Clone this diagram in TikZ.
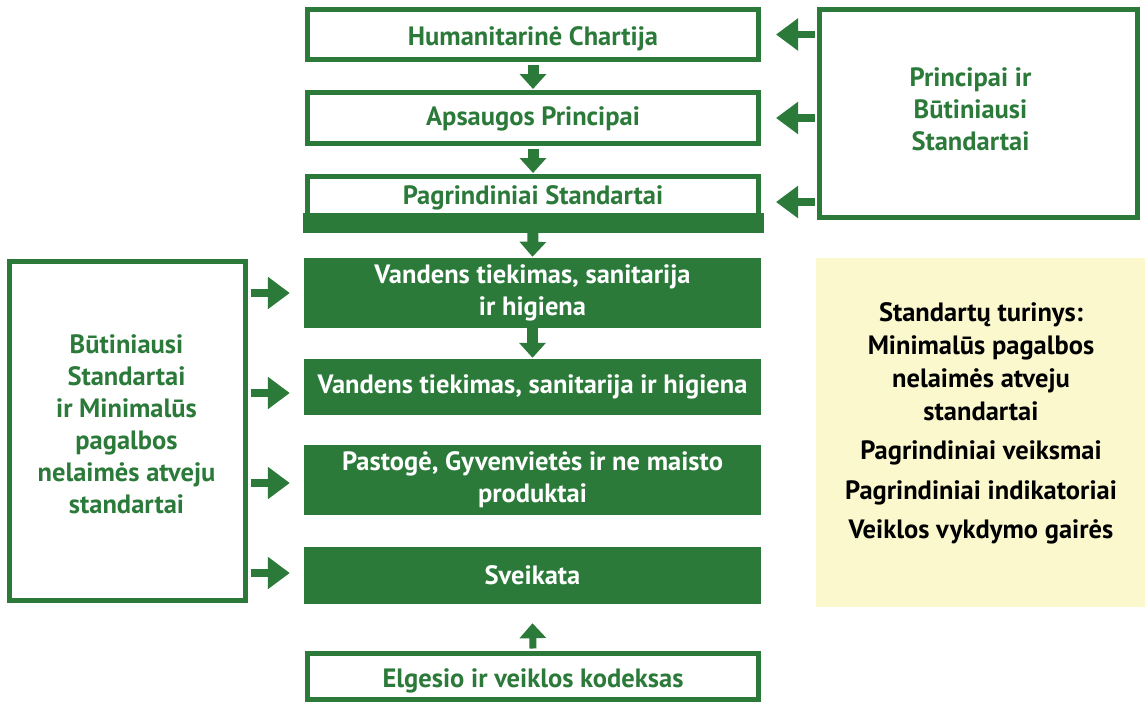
\documentclass[tikz,border=0pt]{standalone}
\usepackage{fontspec}
\setmainfont{PT Sans}
\usetikzlibrary{arrows.meta,calc}
\definecolor{sgreen}{RGB}{43,122,58}
\definecolor{syellow}{RGB}{251,248,206}
\begin{document}
\begin{tikzpicture}[x=1pt,y=-1pt,
  font=\bfseries\fontsize{26.5}{32}\selectfont,
  outbox/.style={draw=sgreen,line width=5pt,fill=white,text=sgreen,inner sep=0pt,align=center},
  greenbox/.style={fill=sgreen,text=white,inner sep=0pt,minimum width=457pt,align=center},
  downarrow/.style={draw=sgreen,line width=11pt,-{Triangle[length=15pt,width=26pt]}},
  sidearrow/.style={draw=sgreen,line width=7.5pt,-{Triangle[length=22pt,width=31pt]}}]
\useasboundingbox (0,0) rectangle (1145,704);

% top column
\node[outbox,minimum width=451pt,minimum height=50pt,
      label={[text=sgreen,yshift=-4pt]center:Humanitarinė Chartija}] (hc) at (533,34.5) {};
\node[outbox,minimum width=451pt,minimum height=51pt,
      label={[text=sgreen,yshift=-1pt]center:Apsaugos Principai}] (ap) at (533,118) {};
\node[outbox,minimum width=451pt,minimum height=51pt,
      label={[text=sgreen,yshift=4.5pt]center:Pagrindiniai Standartai}] (ps) at (533,202) {};
\fill[sgreen] ([xshift=-2.5pt,yshift=-2.5pt]ps.south west) rectangle ([xshift=2.5pt,yshift=17pt]ps.south east);

% right box
\node[outbox,minimum width=318pt,minimum height=208pt,
      label={[text=sgreen,align=center,xshift=-8pt,yshift=4pt]center:Principai ir\\Būtiniausi\\Standartai}] (pb) at (978.5,113.5) {};

% green boxes
\node[greenbox,minimum height=70pt] (g1) at (532.5,293) {Vandens tiekimas, sanitarija\\ir higiena};
\node[greenbox,minimum height=56pt] (g2) at (532.5,387) {Vandens tiekimas, sanitarija ir higiena};
\node[greenbox,minimum height=70pt] (g3) at (532.5,480) {Pastogė, Gyvenvietės ir ne maisto\\produktai};
\node[greenbox,minimum height=57pt] (g4) at (532.5,575.5) {Sveikata};

% bottom box
\node[outbox,minimum width=451pt,minimum height=46pt,
      label={[text=sgreen,yshift=-4pt]center:Elgesio ir veiklos kodeksas}] (ek) at (533,676.5) {};

% left box
\node[outbox,minimum width=236pt,minimum height=339pt,
      label={[text=sgreen,align=center,xshift=-1pt,yshift=7pt]center:Būtiniausi\\Standartai\\ir Minimalūs\\pagalbos\\nelaimės atveju\\standartai}] (lb) at (127.5,431) {};

% yellow box
\node[fill=syellow,minimum width=330pt,minimum height=349pt,inner sep=0pt,
      label={[align=center,text=black,yshift=9pt,font=\bfseries\fontsize{26.5}{33}\selectfont]center:Standartų turinys:\\Minimalūs pagalbos\\nelaimės atveju\\standartai\\[6pt]Pagrindiniai veiksmai\\[7pt]Pagrindiniai indikatoriai\\[6pt]Veiklos vykdymo gairės}] (yb) at (981,432.5) {};

% down arrows
\draw[downarrow] ([yshift=-2.5pt]hc.south) -- ([yshift=1pt]ap.north);
\draw[downarrow] ([yshift=-2.5pt]ap.south) -- ([yshift=1pt]ps.north);
\draw[downarrow] ([yshift=-2.5pt]ps.south) -- ([yshift=1pt]g1.north);
\draw[downarrow] (g1.south) -- ([yshift=1pt]g2.north);
\draw[downarrow,line width=7pt,-{Triangle[length=15pt,width=26pt]}] ([yshift=2.5pt]ek.north) -- ([yshift=-19pt]g4.south);

% arrows from right box
\draw[sidearrow] ([xshift=-2.5pt]pb.west |- hc.center) -- ([xshift=15pt]hc.east);
\draw[sidearrow] ([xshift=-2.5pt]pb.west |- ap.center) -- ([xshift=15pt]ap.east);
\draw[sidearrow] ([xshift=-2.5pt]pb.west |- ps.center) -- ([xshift=15pt]ps.east);

% arrows from left box
\draw[sidearrow] ([xshift=2.5pt]lb.east |- 0,293) -- ([xshift=-14pt]g1.west |- 0,293);
\draw[sidearrow] ([xshift=2.5pt]lb.east |- 0,393) -- ([xshift=-14pt]g2.west |- 0,393);
\draw[sidearrow] ([xshift=2.5pt]lb.east |- 0,483) -- ([xshift=-14pt]g3.west |- 0,483);
\draw[sidearrow] ([xshift=2.5pt]lb.east |- 0,573) -- ([xshift=-14pt]g4.west |- 0,573);
\end{tikzpicture}
\end{document}
